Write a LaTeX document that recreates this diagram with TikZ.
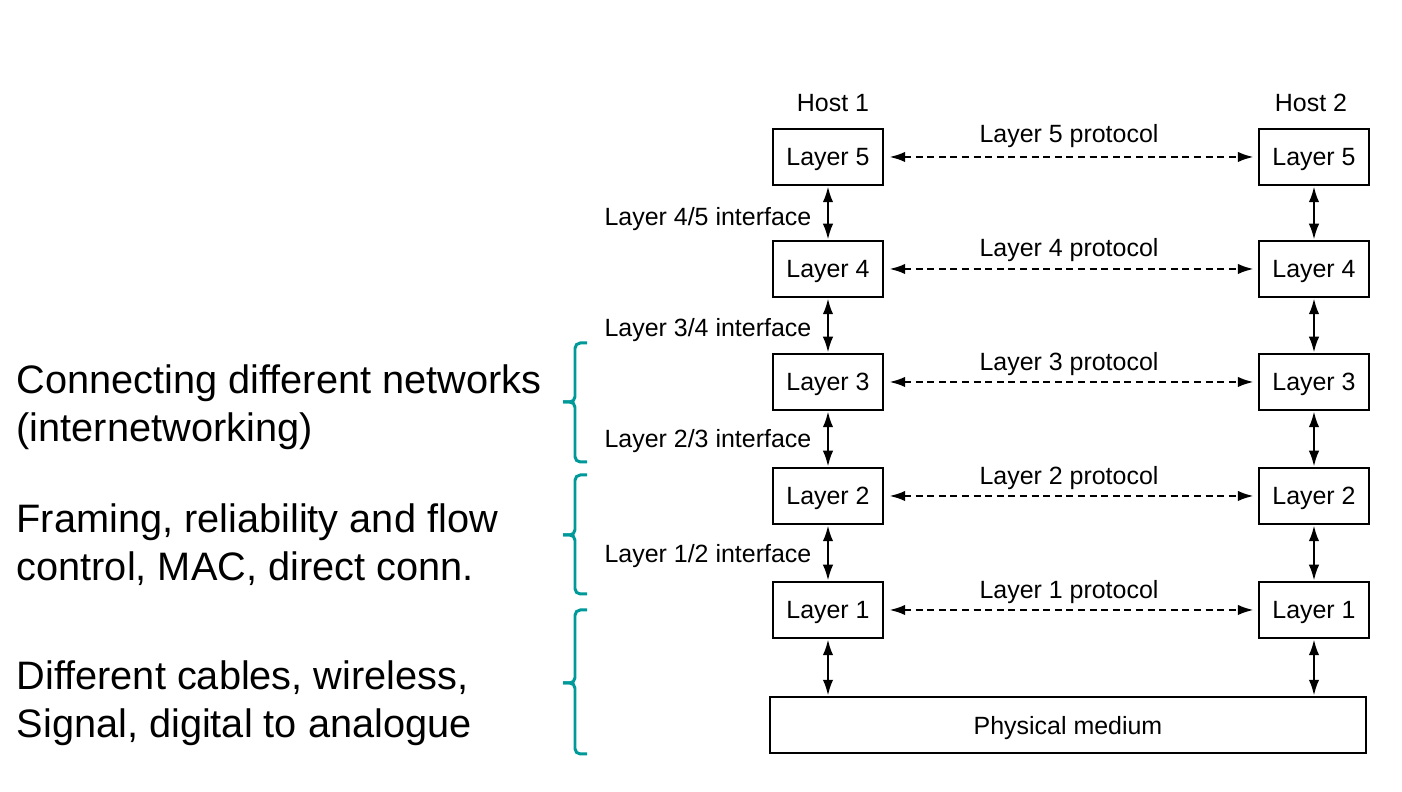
\documentclass[tikz,border=0pt]{standalone}
\usepackage{fontspec}
\setmainfont{Liberation Sans}
\usepackage{tikz}
\usetikzlibrary{positioning,arrows.meta,calc}
\usepackage{xcolor}
\definecolor{braceTeal}{HTML}{00999A}

\begin{document}
\begin{tikzpicture}[
    layerBox/.style={draw=black, line width=0.7pt, font=\fontsize{7.1}{8.5}\selectfont, minimum width=1.1cm, minimum height=0.56cm, inner sep=0pt, text depth=0pt},
    smallLabel/.style={font=\fontsize{7.1}{8.5}\selectfont, inner sep=0pt, text depth=0pt},
    bigLabel/.style={font=\fontsize{11.3}{13.7}\selectfont, align=left, inner sep=0pt, anchor=west},
    ifaceArrow/.style={{Latex[length=1.6mm,width=1.05mm]}-{Latex[length=1.6mm,width=1.05mm]}, line width=0.7pt},
    protoArrow/.style={ifaceArrow, dash pattern=on 2pt off 1.3pt, shorten <=0.05cm, shorten >=0.04cm},
    braceLine/.style={draw=braceTeal, line width=0.85pt, rounded corners=1.5pt}
]
    \useasboundingbox (0,0) rectangle (14.02,7.92);

    % host columns
    \node[smallLabel] (hostOne) at (8.33, 6.89) {Host 1};
    \node[smallLabel] (hostTwo) at (13.11, 6.89) {Host 2};

    \node[layerBox] (fiveL) at (8.28, 6.35) {Layer 5};
    \node[layerBox] (fourL) at (8.28, 5.23) {Layer 4};
    \node[layerBox] (threeL) at (8.28, 4.10) {Layer 3};
    \node[layerBox] (twoL) at (8.28, 2.96) {Layer 2};
    \node[layerBox] (oneL) at (8.28, 1.82) {Layer 1};

    \node[layerBox] (fiveR) at (13.14, 6.35) {Layer 5};
    \node[layerBox] (fourR) at (13.14, 5.23) {Layer 4};
    \node[layerBox] (threeR) at (13.14, 4.10) {Layer 3};
    \node[layerBox] (twoR) at (13.14, 2.96) {Layer 2};
    \node[layerBox] (oneR) at (13.14, 1.82) {Layer 1};

    \node[layerBox, minimum width=5.96cm] (phys) at (10.68, 0.67) {Physical medium};

    % protocols
    \node[smallLabel] (protoFive) at (10.69, 6.59) {Layer 5 protocol};
    \node[smallLabel] (protoFour) at (10.69, 5.45) {Layer 4 protocol};
    \node[smallLabel] (protoThree) at (10.69, 4.31) {Layer 3 protocol};
    \node[smallLabel] (protoTwo) at (10.69, 3.17) {Layer 2 protocol};
    \node[smallLabel] (protoOne) at (10.69, 2.03) {Layer 1 protocol};

    \draw[protoArrow] (fiveL.east) -- (fiveR.west);
    \draw[protoArrow] (fourL.east) -- (fourR.west);
    \draw[protoArrow] (threeL.east) -- (threeR.west);
    \draw[protoArrow] (twoL.east) -- (twoR.west);
    \draw[protoArrow] (oneL.east) -- (oneR.west);

    % interfaces
    \node[smallLabel, anchor=east] (ifaceFour) at (8.12, 5.76) {Layer 4/5 interface};
    \node[smallLabel, anchor=east] (ifaceThree) at (8.12, 4.65) {Layer 3/4 interface};
    \node[smallLabel, anchor=east] (ifaceTwo) at (8.12, 3.54) {Layer 2/3 interface};
    \node[smallLabel, anchor=east] (ifaceOne) at (8.12, 2.39) {Layer 1/2 interface};

    \draw[ifaceArrow] (fiveL.south) -- (fourL.north);
    \draw[ifaceArrow] (fourL.south) -- (threeL.north);
    \draw[ifaceArrow] (threeL.south) -- (twoL.north);
    \draw[ifaceArrow] (twoL.south) -- (oneL.north);
    \draw[ifaceArrow] (oneL.south) -- (oneL.south |- phys.north);

    \draw[ifaceArrow] (fiveR.south) -- (fourR.north);
    \draw[ifaceArrow] (fourR.south) -- (threeR.north);
    \draw[ifaceArrow] (threeR.south) -- (twoR.north);
    \draw[ifaceArrow] (twoR.south) -- (oneR.north);
    \draw[ifaceArrow] (oneR.south) -- (oneR.south |- phys.north);

    % what the layers do
    \node[bigLabel] (netText) at (0.16, 3.85) {Connecting different networks\\(internetworking)};
    \node[bigLabel] (linkText) at (0.16, 2.47) {Framing, reliability and flow\\control, MAC, direct conn.};
    \node[bigLabel] (physText) at (0.16, 0.89) {Different cables, wireless,\\Signal, digital to analogue};

    \draw[braceLine] (5.87, 4.49) -- (5.75, 4.49) -- (5.75, 3.90) -- (5.63, 3.90);
    \draw[braceLine] (5.63, 3.90) -- (5.75, 3.90) -- (5.75, 3.30) -- (5.87, 3.30);
    \draw[braceLine] (5.87, 3.17) -- (5.75, 3.17) -- (5.75, 2.57) -- (5.63, 2.57);
    \draw[braceLine] (5.63, 2.57) -- (5.75, 2.57) -- (5.75, 1.98) -- (5.87, 1.98);
    \draw[braceLine] (5.87, 1.82) -- (5.75, 1.82) -- (5.75, 1.09) -- (5.63, 1.09);
    \draw[braceLine] (5.63, 1.09) -- (5.75, 1.09) -- (5.75, 0.38) -- (5.87, 0.38);
\end{tikzpicture}
\end{document}
